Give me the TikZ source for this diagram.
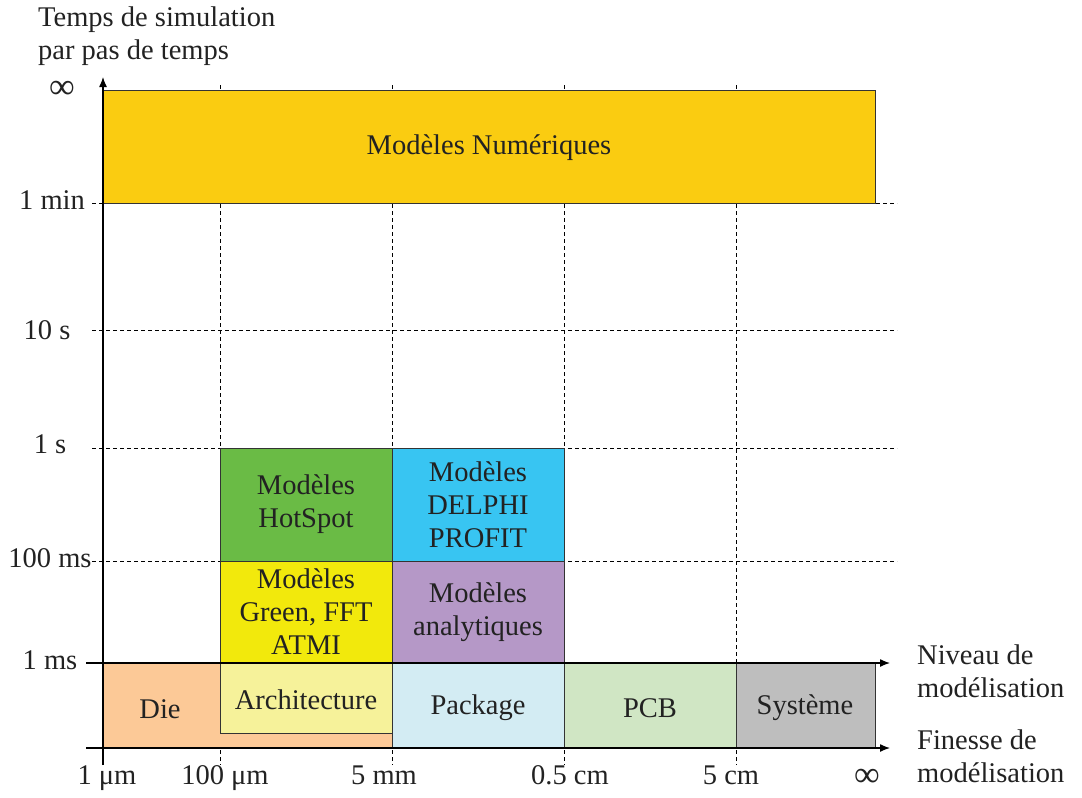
\documentclass[tikz,border=0pt]{standalone}
\usepackage{fontspec}
\setmainfont{Liberation Serif}
\usetikzlibrary{arrows.meta}
\definecolor{txt}{HTML}{222222}
\definecolor{edge}{HTML}{333333}
\definecolor{cNum}{HTML}{FACC11}
\definecolor{cHot}{HTML}{6ABB45}
\definecolor{cDel}{HTML}{38C5F2}
\definecolor{cFFT}{HTML}{F2E90C}
\definecolor{cAna}{HTML}{B598C7}
\definecolor{cDie}{HTML}{FCC997}
\definecolor{cArc}{HTML}{F6F29A}
\definecolor{cPkg}{HTML}{D3ECF3}
\definecolor{cPCB}{HTML}{D0E6C4}
\definecolor{cSys}{HTML}{BEBEBE}
\begin{document}
\begin{tikzpicture}[x=1pt,y=-1pt,
  font=\fontsize{28.5}{33}\selectfont, text=txt,
  box/.style={draw=edge, line width=0.9pt, inner sep=0pt, outer sep=0pt, anchor=north west, align=center},
  gridline/.style={line width=0.8pt, dash pattern=on 4pt off 3pt},
  axis/.style={line width=1.3pt, -{Latex[length=10pt,width=8pt]}},
  lab/.style={inner sep=0pt, align=left},
  inf/.style={inner sep=0pt, font=\fontsize{36}{36}\selectfont}]
\useasboundingbox (0,0) rectangle (1082,798);
% grid
\foreach \x in {220,392,564,736} \draw[gridline] (\x,85) -- (\x,765);
\foreach \y in {203,330,448,561} \draw[gridline] (92,\y) -- (897,\y);
% boxes
\node[box, fill=cNum, minimum width=772pt, minimum height=113pt] (num) at (103,90) {};
\node[lab] (numlab) at (489,148) {Modèles Numériques};
\node[box, fill=cHot, minimum width=172pt, minimum height=113pt] (hot) at (220,448) {Modèles\\HotSpot};
\node[box, fill=cDel, minimum width=172pt, minimum height=113pt] (del) at (392,448) {Modèles\\DELPHI\\PROFIT};
\node[box, fill=cFFT, minimum width=172pt, minimum height=102pt] (fft) at (220,561) {Modèles\\Green, FFT\\ATMI};
\node[box, fill=cAna, minimum width=172pt, minimum height=102pt] (ana) at (392,561) {Modèles\\analytiques};
\node[box, fill=cDie, minimum width=289pt, minimum height=85pt] (die) at (103,663) {};
\node[lab] (dielab) at (160,709) {Die};
\node[box, fill=cArc, minimum width=172pt, minimum height=70pt] (arc) at (220,663) {};
\node[lab] (arclab) at (306,700) {Architecture};
\node[box, fill=cPkg, minimum width=172pt, minimum height=85pt] (pkg) at (392,663) {};
\node[lab] (pkglab) at (478,708) {Package};
\node[box, fill=cPCB, minimum width=172pt, minimum height=85pt] (pcb) at (564,663) {};
\node[lab] (pcblab) at (650,708) {PCB};
\node[box, fill=cSys, minimum width=139pt, minimum height=85pt] (sys) at (736,663) {};
\node[lab] (syslab) at (805,708) {Système};
% axes
\coordinate (y0) at (103,765);
\coordinate (y1) at (103,77);
\coordinate (a0) at (86,663);
\coordinate (a1) at (890,663);
\coordinate (b0) at (86,748);
\coordinate (b1) at (890,748);
\draw[axis] (y0) -- (y1);
\draw[axis] (a0) -- (a1);
\draw[axis] (b0) -- (b1);
% y labels
\node[inf] (tinf) at (62,90) {∞};
\node[lab] (tmin) at (52,200) {1 min};
\node[lab] (t10) at (47,330) {10 s};
\node[lab] (t1) at (50,444) {1 s};
\node[lab] (t100) at (50,558) {100 ms};
\node[lab] (t1ms) at (50,660) {1 ms};
% x labels
\node[lab] (x1) at (107,778) {1 μm};
\node[lab] (x2) at (225,778) {100 μm};
\node[lab] (x3) at (384,775) {5 mm};
\node[lab] (x4) at (570,775) {0.5 cm};
\node[lab] (x5) at (731,775) {5 cm};
\node[inf] (x6) at (867,778) {∞};
% axis titles
\node[lab, anchor=west] (ttl) at (38,36) {Temps de simulation\\par pas de temps};
\node[lab, anchor=west] (niv) at (917,671) {Niveau de\\modélisation};
\node[lab, anchor=west] (fin) at (917,756) {Finesse de\\modélisation};
\end{tikzpicture}
\end{document}
